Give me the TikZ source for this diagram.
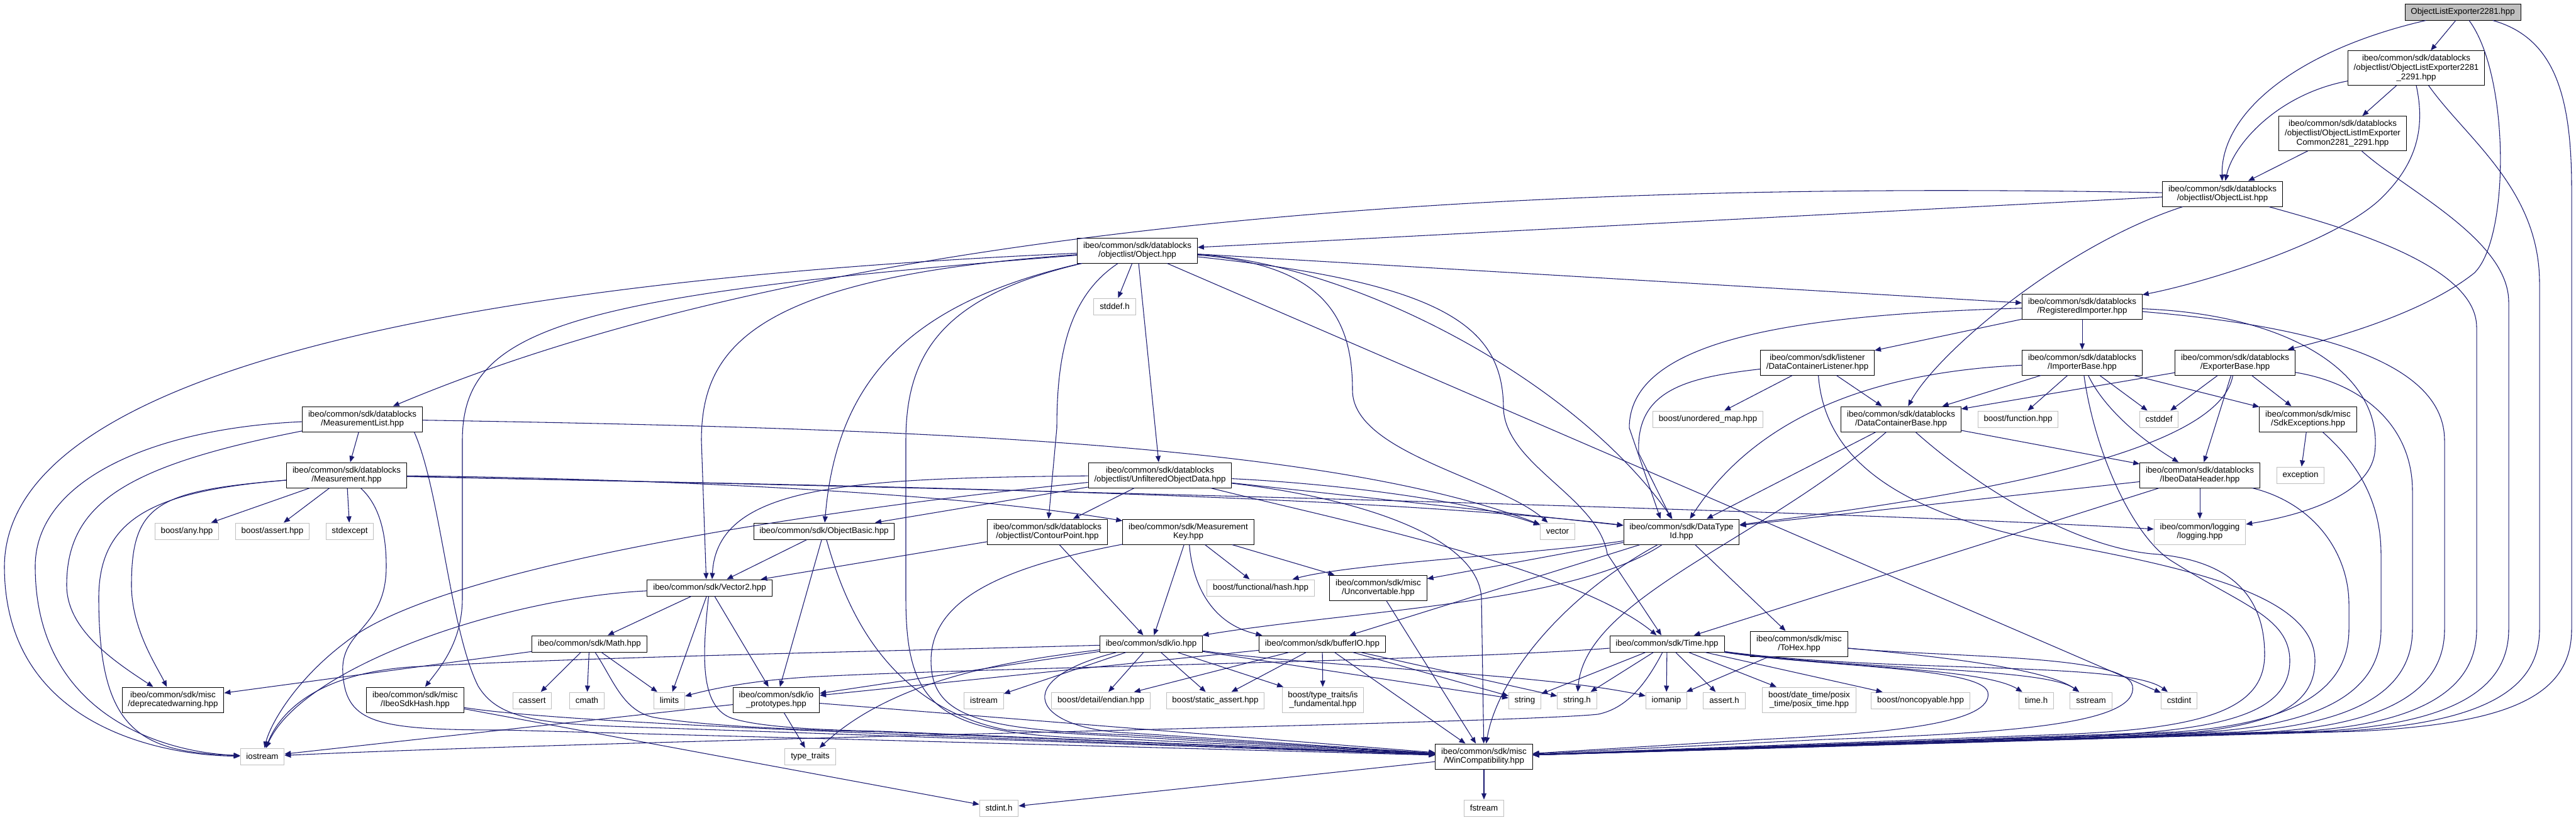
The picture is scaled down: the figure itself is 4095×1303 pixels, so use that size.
\documentclass[tikz,border=0pt]{standalone}
\usepackage{fontspec}
\setmainfont{Liberation Sans}
\usetikzlibrary{arrows.meta}
\definecolor{edgeblue}{RGB}{25,25,112}
\definecolor{grey75}{RGB}{191,191,191}

\begin{document}
\begin{tikzpicture}[x=0.75pt,y=-0.75pt]
\tikzset{
  filenode/.style={rectangle,draw=black,fill=white,line width=0.75pt,align=center,inner xsep=7pt,inner ysep=0pt,minimum height=19.5pt,font=\fontsize{10}{11}\selectfont},
  sysnode/.style={filenode,draw=grey75},
  rootnode/.style={filenode,fill=grey75},
  twolines/.style={minimum height=30pt},
  threelines/.style={minimum height=41pt},
  incl/.style={draw=edgeblue,line width=0.8pt,-{Stealth[length=7.5pt,width=6pt,inset=0pt]}}
}
\useasboundingbox (0,0) rectangle (4095,1303);
\node[rootnode] (n_root) at (3915,19) {ObjectListExporter2281.hpp};
\node[filenode,threelines] (n_exp2291) at (3841,108) {ibeo/common/sdk/datablocks\\/objectlist/ObjectListExporter2281\\\_2291.hpp};
\node[filenode,threelines] (n_imexp) at (3724,212) {ibeo/common/sdk/datablocks\\/objectlist/ObjectListImExporter\\Common2281\_2291.hpp};
\node[filenode,twolines] (n_objlist) at (3533,308) {ibeo/common/sdk/datablocks\\/objectlist/ObjectList.hpp};
\node[filenode,twolines] (n_object) at (1808,398) {ibeo/common/sdk/datablocks\\/objectlist/Object.hpp};
\node[filenode,twolines] (n_regimp) at (3310,487) {ibeo/common/sdk/datablocks\\/RegisteredImporter.hpp};
\node[sysnode] (n_stddef) at (1772,487) {stddef.h};
\node[filenode,twolines] (n_dclisten) at (2889,576) {ibeo/common/sdk/listener\\/DataContainerListener.hpp};
\node[filenode,twolines] (n_impbase) at (3310,576) {ibeo/common/sdk/datablocks\\/ImporterBase.hpp};
\node[filenode,twolines] (n_expbase) at (3553,576) {ibeo/common/sdk/datablocks\\/ExporterBase.hpp};
\node[filenode,twolines] (n_measlist) at (576,666) {ibeo/common/sdk/datablocks\\/MeasurementList.hpp};
\node[sysnode] (n_umap) at (2715,666) {boost/unordered\_map.hpp};
\node[filenode,twolines] (n_dcbase) at (3022,666) {ibeo/common/sdk/datablocks\\/DataContainerBase.hpp};
\node[sysnode] (n_bfunc) at (3208,666) {boost/function.hpp};
\node[sysnode] (n_cstddef) at (3432,666) {cstddef};
\node[filenode,twolines] (n_sdkexc) at (3669,666) {ibeo/common/sdk/misc\\/SdkExceptions.hpp};
\node[filenode,twolines] (n_meas) at (551,755) {ibeo/common/sdk/datablocks\\/Measurement.hpp};
\node[filenode,twolines] (n_unfilt) at (1844,755) {ibeo/common/sdk/datablocks\\/objectlist/UnfilteredObjectData.hpp};
\node[filenode,twolines] (n_datahdr) at (3497,755) {ibeo/common/sdk/datablocks\\/IbeoDataHeader.hpp};
\node[sysnode] (n_except) at (3657,755) {exception};
\node[sysnode] (n_bany) at (297,844) {boost/any.hpp};
\node[sysnode] (n_bassert) at (433,844) {boost/assert.hpp};
\node[sysnode] (n_stdexc) at (556,844) {stdexcept};
\node[filenode] (n_objbasic) at (1310,844) {ibeo/common/sdk/ObjectBasic.hpp};
\node[filenode,twolines] (n_contour) at (1665,845) {ibeo/common/sdk/datablocks\\/objectlist/ContourPoint.hpp};
\node[filenode,twolines] (n_measkey) at (1889,845) {ibeo/common/sdk/Measurement\\Key.hpp};
\node[sysnode] (n_vector) at (2476,844) {vector};
\node[filenode,twolines] (n_dtypeid) at (2673,845) {ibeo/common/sdk/DataType\\Id.hpp};
\node[sysnode,twolines] (n_logging) at (3497,845) {ibeo/common/logging\\/logging.hpp};
\node[filenode] (n_vector2) at (1128,934) {ibeo/common/sdk/Vector2.hpp};
\node[sysnode] (n_bhash) at (2004,934) {boost/functional/hash.hpp};
\node[filenode,twolines] (n_unconv) at (2191,934) {ibeo/common/sdk/misc\\/Unconvertable.hpp};
\node[filenode] (n_math) at (937,1023) {ibeo/common/sdk/Math.hpp};
\node[filenode] (n_io) at (1830,1023) {ibeo/common/sdk/io.hpp};
\node[filenode] (n_bufio) at (2102,1023) {ibeo/common/sdk/bufferIO.hpp};
\node[filenode] (n_time) at (2650,1023) {ibeo/common/sdk/Time.hpp};
\node[filenode,twolines] (n_tohex) at (2860,1023) {ibeo/common/sdk/misc\\/ToHex.hpp};
\node[filenode,twolines] (n_deprec) at (275,1112) {ibeo/common/sdk/misc\\/deprecatedwarning.hpp};
\node[filenode,twolines] (n_sdkhash) at (660,1112) {ibeo/common/sdk/misc\\/IbeoSdkHash.hpp};
\node[sysnode] (n_cassert) at (846,1113) {cassert};
\node[sysnode] (n_cmath) at (933,1113) {cmath};
\node[sysnode] (n_limits) at (1064,1113) {limits};
\node[filenode,twolines] (n_ioproto) at (1234,1112) {ibeo/common/sdk/io\\\_prototypes.hpp};
\node[sysnode] (n_istream) at (1564,1113) {istream};
\node[sysnode] (n_bendian) at (1750,1113) {boost/detail/endian.hpp};
\node[sysnode] (n_bstatic) at (1932,1113) {boost/static\_assert.hpp};
\node[sysnode,twolines] (n_bisfund) at (2103,1112) {boost/type\_traits/is\\\_fundamental.hpp};
\node[sysnode] (n_string) at (2424,1113) {string};
\node[sysnode] (n_stringh) at (2507,1113) {string.h};
\node[sysnode] (n_iomanip) at (2649,1113) {iomanip};
\node[sysnode] (n_asserth) at (2741,1113) {assert.h};
\node[sysnode,twolines] (n_bposix) at (2876,1112) {boost/date\_time/posix\\\_time/posix\_time.hpp};
\node[sysnode] (n_bnoncopy) at (3053,1113) {boost/noncopyable.hpp};
\node[sysnode] (n_timeh) at (3237,1113) {time.h};
\node[sysnode] (n_sstream) at (3324,1113) {sstream};
\node[sysnode] (n_cstdint) at (3464,1113) {cstdint};
\node[sysnode] (n_iostream) at (417,1202) {iostream};
\node[sysnode] (n_typetr) at (1288,1202) {type\_traits};
\node[filenode,twolines] (n_wincompat) at (2359,1202) {ibeo/common/sdk/misc\\/WinCompatibility.hpp};
\node[sysnode] (n_stdinth) at (1588,1284) {stdint.h};
\node[sysnode] (n_fstream) at (2359,1284) {fstream};
\draw[incl] (n_root) -- (n_exp2291);
\draw[incl] (n_root) .. controls (3650,80) and (3530,180) .. (n_objlist);
\draw[incl] (n_root) .. controls (3990,120) and (3990,380) .. (3933,434) .. controls (3850,500) and (3700,540) .. (n_expbase);
\draw[incl] (n_root) .. controls (4060,60) and (4088,150) .. (4088,300) -- (4088,1000) .. controls (4088,1110) and (3980,1150) .. (3750,1162) -- (n_wincompat);
\draw[incl] (n_exp2291) -- (n_imexp);
\draw[incl] (n_exp2291) .. controls (3620,150) and (3550,230) .. (n_objlist);
\draw[incl] (n_exp2291.south) .. controls (3855,200) and (3845,260) .. (3780,320) .. controls (3700,390) and (3500,450) .. (n_regimp);
\draw[incl] (n_exp2291) .. controls (3920,220) and (4037,300) .. (4037,450) -- (4037,1000) .. controls (4037,1100) and (3940,1150) .. (3720,1162) -- (n_wincompat);
\draw[incl] (n_imexp) -- (n_objlist);
\draw[incl] (n_imexp) .. controls (3820,300) and (3988,380) .. (3988,480) -- (3988,1000) .. controls (3988,1100) and (3890,1150) .. (3690,1162) -- (n_wincompat);
\draw[incl] (n_objlist) -- (n_object);
\draw[incl] (n_objlist) .. controls (2600,290) and (1400,320) .. (n_measlist);
\draw[incl] (n_objlist) .. controls (3280,390) and (3080,560) .. (n_dcbase);
\draw[incl] (n_objlist) .. controls (3720,360) and (3937,420) .. (3937,520) -- (3937,1000) .. controls (3937,1100) and (3840,1150) .. (3660,1162) -- (n_wincompat);
\draw[incl] (n_object) .. controls (1100,430) and (10,520) .. (7,900) .. controls (7,1150) and (250,1200) .. (n_iostream);
\draw[incl] (n_object) .. controls (900,470) and (735,520) .. (735,700) -- (735,950) .. controls (735,1020) and (700,1060) .. (n_sdkhash);
\draw[incl] (n_object) .. controls (1200,440) and (1115,550) .. (1115,700) -- ([xshift=-4pt]n_vector2.north);
\draw[incl] (n_object) .. controls (1450,480) and (1330,600) .. (n_objbasic);
\draw[incl] (n_object) .. controls (1500,470) and (1440,560) .. (1440,700) -- (1440,950) .. controls (1440,1140) and (1500,1170) .. (1800,1175) -- (n_wincompat);
\draw[incl] (n_object) .. controls (1700,470) and (1680,560) .. (1680,680) -- (n_contour);
\draw[incl] (n_object) -- (n_stddef);
\draw[incl] (n_object) -- (n_unfilt);
\draw[incl] (n_object) -- (n_regimp);
\draw[incl] (n_object) .. controls (2150,420) and (2500,600) .. (n_dtypeid);
\draw[incl] (n_object) .. controls (2100,420) and (2150,500) .. (2150,620) .. controls (2150,720) and (2380,760) .. (n_vector);
\draw[incl] (n_object) .. controls (2300,450) and (2390,520) .. (2390,650) .. controls (2395,740) and (2540,790) .. (2555,880) -- (n_time);
\draw[incl] (n_object) -- (n_cstdint);
\draw[incl] (n_regimp) -- (n_dclisten);
\draw[incl] (n_regimp) -- (n_impbase);
\draw[incl] (n_regimp) .. controls (2850,500) and (2590,540) .. (2590,680) -- ([xshift=-25pt]n_dtypeid.north);
\draw[incl] (n_regimp) .. controls (3650,500) and (3790,600) .. (3775,720) .. controls (3765,790) and (3650,820) .. (n_logging);
\draw[incl] (n_regimp) .. controls (3700,520) and (3886,580) .. (3886,700) -- (3886,1000) .. controls (3886,1100) and (3790,1150) .. (3610,1163) -- (n_wincompat);
\draw[incl] (n_dclisten) -- (n_umap);
\draw[incl] (n_dclisten) -- (n_dcbase);
\draw[incl] (n_dclisten) .. controls (2680,600) and (2600,620) .. (2605,720) -- ([xshift=-12pt]n_dtypeid.north);
\draw[incl] (n_dclisten) .. controls (2900,720) and (3000,810) .. (3250,860) .. controls (3500,905) and (3680,950) .. (3680,1050) .. controls (3680,1150) and (3550,1170) .. (3250,1176) -- (n_wincompat);
\draw[incl] (n_impbase) -- (n_dcbase);
\draw[incl] (n_impbase) -- (n_bfunc);
\draw[incl] (n_impbase) -- (n_cstddef);
\draw[incl] (n_impbase) -- (n_sdkexc);
\draw[incl] (n_impbase) .. controls (3340,640) and (3390,690) .. (n_datahdr);
\draw[incl] (n_impbase) .. controls (3000,590) and (2800,650) .. (n_dtypeid);
\draw[incl] (n_impbase) .. controls (3330,720) and (3390,850) .. (3450,890) .. controls (3560,960) and (3640,980) .. (3640,1050) .. controls (3640,1140) and (3520,1165) .. (3250,1172) -- (n_wincompat);
\draw[incl] (n_expbase) -- (n_dcbase);
\draw[incl] (n_expbase) -- (n_cstddef);
\draw[incl] (n_expbase) -- (n_sdkexc);
\draw[incl] (n_expbase) -- (n_datahdr);
\draw[incl] (n_expbase) .. controls (3530,710) and (3200,780) .. (n_dtypeid);
\draw[incl] (n_expbase) .. controls (3760,610) and (3835,680) .. (3835,780) -- (3835,1000) .. controls (3835,1100) and (3740,1150) .. (3560,1163) -- (n_wincompat);
\draw[incl] (n_dcbase) -- (n_dtypeid);
\draw[incl] (n_dcbase) -- (n_datahdr);
\draw[incl] (n_dcbase) .. controls (2800,860) and (2520,950) .. (n_stringh);
\draw[incl] (n_dcbase) .. controls (3150,780) and (3300,868) .. (3420,880) .. controls (3560,890) and (3600,960) .. (3600,1040) .. controls (3600,1130) and (3500,1160) .. (3250,1168) -- (n_wincompat);
\draw[incl] (n_sdkexc) -- (n_except);
\draw[incl] (n_sdkexc) .. controls (3730,720) and (3785,780) .. (3785,880) -- (3785,1000) .. controls (3785,1100) and (3690,1150) .. (3510,1163) -- (n_wincompat);
\draw[incl] (n_datahdr) -- (n_dtypeid);
\draw[incl] (n_datahdr) -- (n_time);
\draw[incl] (n_datahdr) -- (n_logging);
\draw[incl] (n_datahdr) .. controls (3680,800) and (3734,880) .. (3734,960) -- (3734,1000) .. controls (3734,1100) and (3640,1150) .. (3460,1163) -- (n_wincompat);
\draw[incl] (n_measlist) -- (n_meas);
\draw[incl] (n_measlist) .. controls (250,680) and (56,760) .. (56,900) .. controls (56,1130) and (250,1195) .. (n_iostream);
\draw[incl] (n_measlist) .. controls (200,740) and (106,800) .. (106,930) .. controls (106,1000) and (180,1050) .. (n_deprec);
\draw[incl] (n_measlist) .. controls (1400,680) and (2100,700) .. (n_vector);
\draw[incl] ([xshift=-10pt]n_measlist.south east) .. controls (700,780) and (715,1000) .. (760,1090) .. controls (790,1140) and (850,1150) .. (1000,1155) -- (n_wincompat);
\draw[incl] (n_meas) -- (n_bany);
\draw[incl] (n_meas) -- (n_bassert);
\draw[incl] (n_meas) -- (n_stdexc);
\draw[incl] (n_meas) .. controls (1000,760) and (1500,780) .. (n_measkey);
\draw[incl] (n_meas) .. controls (1200,770) and (2100,780) .. (n_dtypeid);
\draw[incl] (n_meas) .. controls (1500,775) and (2900,810) .. (n_logging);
\draw[incl] (n_meas) .. controls (250,780) and (157,820) .. (157,950) .. controls (157,1160) and (220,1195) .. (n_iostream);
\draw[incl] (n_meas) .. controls (250,780) and (209,800) .. (209,930) .. controls (209,1000) and (250,1060) .. (n_deprec);
\draw[incl] (n_meas) .. controls (600,800) and (614,840) .. (614,900) .. controls (614,1000) and (540,1000) .. (545,1070) .. controls (550,1150) and (600,1160) .. (800,1160) -- (n_wincompat);
\draw[incl] (n_unfilt) -- (n_objbasic);
\draw[incl] (n_unfilt) -- (n_contour);
\draw[incl] (n_unfilt) .. controls (1350,760) and (1140,770) .. ([xshift=3pt]n_vector2.north);
\draw[incl] (n_unfilt) .. controls (1300,810) and (700,900) .. (550,1020) .. controls (470,1080) and (430,1150) .. (n_iostream);
\draw[incl] (n_unfilt) .. controls (2150,770) and (2350,800) .. (n_vector);
\draw[incl] (n_unfilt) -- (n_dtypeid);
\draw[incl] (n_unfilt) .. controls (2100,820) and (2500,900) .. (n_time);
\draw[incl] (n_unfilt) .. controls (2150,790) and (2350,850) .. (2355,950) -- (n_wincompat);
\draw[incl] (n_objbasic) -- (n_vector2);
\draw[incl] (n_objbasic) -- (n_ioproto);
\draw[incl] (n_objbasic) .. controls (1340,950) and (1400,1120) .. (1600,1160) -- (n_wincompat);
\draw[incl] (n_contour) -- (n_vector2);
\draw[incl] (n_contour) -- (n_io);
\draw[incl] (n_measkey) -- (n_io);
\draw[incl] (n_measkey) -- (n_bhash);
\draw[incl] (n_measkey) -- (n_unconv);
\draw[incl] (n_measkey) .. controls (1895,920) and (1920,990) .. ([xshift=4pt]n_bufio.north west);
\draw[incl] (n_measkey) .. controls (1600,900) and (1480,950) .. (1480,1050) .. controls (1480,1140) and (1560,1160) .. (1800,1168) -- (n_wincompat);
\draw[incl] (n_dtypeid) .. controls (2450,880) and (2150,895) .. (n_bhash);
\draw[incl] (n_dtypeid) -- (n_unconv);
\draw[incl] (n_dtypeid) .. controls (2500,960) and (2150,970) .. (n_io);
\draw[incl] (n_dtypeid) -- (n_bufio);
\draw[incl] (n_dtypeid) -- (n_tohex);
\draw[incl] (n_dtypeid) .. controls (2480,950) and (2380,1080) .. (n_wincompat);
\draw[incl] (n_vector2) -- (n_math);
\draw[incl] (n_vector2) -- (n_limits);
\draw[incl] (n_vector2) -- (n_ioproto);
\draw[incl] (n_vector2) .. controls (800,950) and (480,1060) .. (n_iostream);
\draw[incl] (n_vector2) .. controls (1115,1050) and (1115,1120) .. (1160,1140) .. controls (1200,1155) and (1300,1160) .. (1400,1162) -- (n_wincompat);
\draw[incl] (n_math) -- (n_deprec);
\draw[incl] (n_math) -- (n_cassert);
\draw[incl] (n_math) -- (n_cmath);
\draw[incl] (n_math) -- (n_limits);
\draw[incl] (n_math) .. controls (975,1080) and (990,1130) .. (1040,1140) .. controls (1100,1150) and (1200,1158) .. (1400,1163) -- (n_wincompat);
\draw[incl] (n_io) .. controls (1400,1035) and (900,1045) .. (650,1060) .. controls (520,1070) and (450,1120) .. (n_iostream);
\draw[incl] (n_io) -- (n_ioproto);
\draw[incl] (n_io) .. controls (1600,1050) and (1420,1080) .. (n_typetr);
\draw[incl] (n_io) -- (n_istream);
\draw[incl] (n_io) -- (n_bendian);
\draw[incl] (n_io) -- (n_bstatic);
\draw[incl] (n_io) -- (n_bisfund);
\draw[incl] (n_io) -- (n_string);
\draw[incl] (n_io) .. controls (2100,1060) and (2450,1070) .. (n_iomanip);
\draw[incl] (n_io) .. controls (1600,1080) and (1640,1160) .. (1800,1165) -- (n_wincompat);
\draw[incl] (n_ioproto) -- (n_typetr);
\draw[incl] (n_ioproto) -- (n_iostream);
\draw[incl] (n_ioproto) -- (n_wincompat);
\draw[incl] (n_bufio) -- (n_ioproto);
\draw[incl] (n_bufio) -- (n_bendian);
\draw[incl] (n_bufio) -- (n_bstatic);
\draw[incl] (n_bufio) -- (n_bisfund);
\draw[incl] (n_bufio) -- (n_string);
\draw[incl] (n_bufio) -- (n_stringh);
\draw[incl] (n_bufio) -- (n_wincompat);
\draw[incl] (n_time) -- (n_string);
\draw[incl] (n_time) -- (n_stringh);
\draw[incl] (n_time) -- (n_iomanip);
\draw[incl] (n_time) -- (n_asserth);
\draw[incl] (n_time) -- (n_bposix);
\draw[incl] (n_time) -- (n_bnoncopy);
\draw[incl] (n_time) .. controls (2900,1060) and (3150,1060) .. (n_timeh);
\draw[incl] (n_time) .. controls (2950,1065) and (3250,1060) .. (n_sstream);
\draw[incl] (n_time) .. controls (3000,1070) and (3380,1050) .. (n_cstdint);
\draw[incl] (n_time) .. controls (2300,1050) and (1600,1060) .. (1300,1075) .. controls (1200,1080) and (1130,1095) .. (n_limits);
\draw[incl] (n_time) .. controls (2620,1080) and (2590,1125) .. (2540,1135) .. controls (2400,1150) and (1000,1175) .. (n_iostream);
\draw[incl] (n_time) .. controls (2900,1060) and (3150,1060) .. (3160,1100) .. controls (3170,1150) and (3000,1165) .. (2800,1175) -- (n_wincompat);
\draw[incl] (n_tohex) -- (n_iomanip);
\draw[incl] (n_tohex) .. controls (3050,1040) and (3250,1060) .. (n_sstream);
\draw[incl] (n_tohex) .. controls (3100,1045) and (3380,1040) .. (3390,1090) .. controls (3400,1150) and (3200,1165) .. (2900,1175) -- (n_wincompat);
\draw[incl] (n_unconv) -- (n_wincompat);
\draw[incl] (n_sdkhash) -- (n_stdinth);
\draw[incl] (n_sdkhash) .. controls (900,1150) and (1500,1170) .. (n_wincompat);
\draw[incl] (n_wincompat) -- (n_fstream);
\draw[incl] (n_wincompat) -- (n_stdinth);
\end{tikzpicture}
\end{document}
